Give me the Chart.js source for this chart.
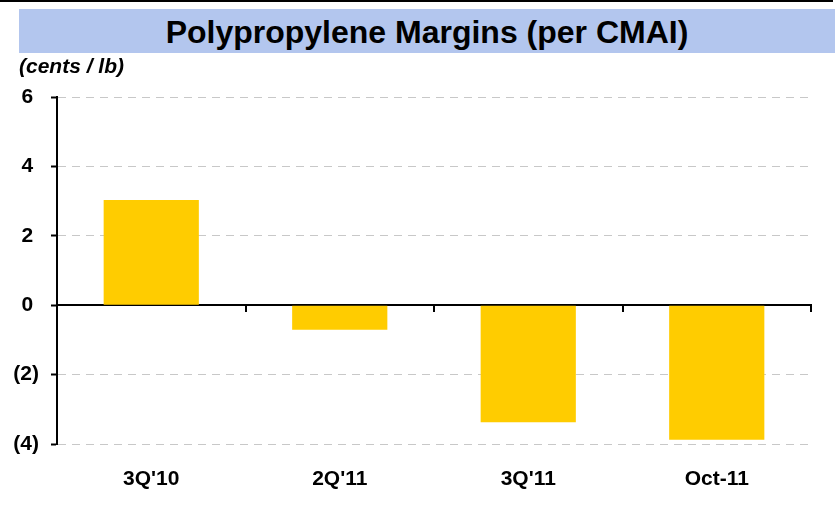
<!DOCTYPE html>
<html>
<head>
<meta charset="utf-8">
<script src="https://cdn.jsdelivr.net/npm/chart.js@4"></script>
<style>
  body { margin: 0; background: #fff; font-family: "Liberation Sans", Arial, sans-serif; }
  #wrap { position: relative; width: 839px; height: 516px; overflow: hidden; }
  #topline { position: absolute; left: 0; top: 0; width: 833px; height: 2px; background: #000; }
  #banner { position: absolute; left: 19px; top: 9px; width: 816px; height: 44px; background: #b3c6ee;
            text-align: center; font-weight: bold; font-size: 32px; line-height: 46px; color: #000; }
  #units { position: absolute; left: 19px; top: 54px; font-weight: bold; font-style: italic; font-size: 21px; }
  canvas { position: absolute; left: 0; top: 0; }
</style>
</head>
<body>
<div id="wrap">
  <canvas id="grafico" width="839" height="516"></canvas>
  <div id="topline"></div>
  <div id="banner">Polypropylene Margins (per CMAI)</div>
  <div id="units">(cents / lb)</div>
</div>
<script>
// categorias e valores (cents / lb)
const periodos = ["3Q'10", "2Q'11", "3Q'11", "Oct-11"];
const margens = [3.03, -0.71, -3.37, -3.88];
const eixoMin = -4;
const eixoMax = 6;
const passo = 2;

const fonteNegrito = { family: '"Liberation Sans", Arial, sans-serif', size: 21, weight: 'bold' };

const ctx = document.getElementById('grafico').getContext('2d');

const config = {
    type: 'bar',
    data: {
        labels: periodos,
        datasets: [{
            data: margens,
            backgroundColor: '#ffcc00',
            borderWidth: 0,
            categoryPercentage: 1,
            barPercentage: 0.505,
            xAxisID: 'x'
        }]
    },
    options: {
        responsive: false,
        animation: false,
        layout: { padding: { top: 97, right: 28, left: 0, bottom: 0 } },
        plugins: { legend: { display: false }, tooltip: { enabled: false } },
        scales: {
            x: {
                type: 'category',
                position: { y: 0 },
                offset: true,
                grid: { offset: true, drawOnChartArea: false, drawTicks: true, tickLength: 6, color: '#000', lineWidth: 2 },
                border: { display: true, color: '#000', width: 2 },
                ticks: { display: false }
            },
            x2: {
                type: 'category',
                position: 'bottom',
                offset: true,
                grid: { display: false, drawTicks: false },
                border: { display: false },
                ticks: { color: '#000', font: fonteNegrito, padding: 23, maxRotation: 0 },
                afterFit: (escala) => { escala.height = 72; }
            },
            y: {
                min: eixoMin,
                max: eixoMax,
                ticks: {
                    stepSize: passo,
                    color: '#000',
                    font: fonteNegrito,
                    padding: 12,
                    // negativos entre parênteses, positivos com espaço no lugar do ")"
                    callback: (v) => v < 0 ? '(' + Math.abs(v) + ')' : v + ' '
                },
                grid: { color: '#c8c8c8', lineWidth: 1, tickColor: '#000', tickLength: 6, tickWidth: 2 },
                border: { display: true, color: '#000', width: 2, dash: [8, 6] },
                afterFit: (escala) => { escala.width = 57; }
            }
        }
    }
};

const grafico = new Chart(ctx, config);
</script>
</body>
</html>
